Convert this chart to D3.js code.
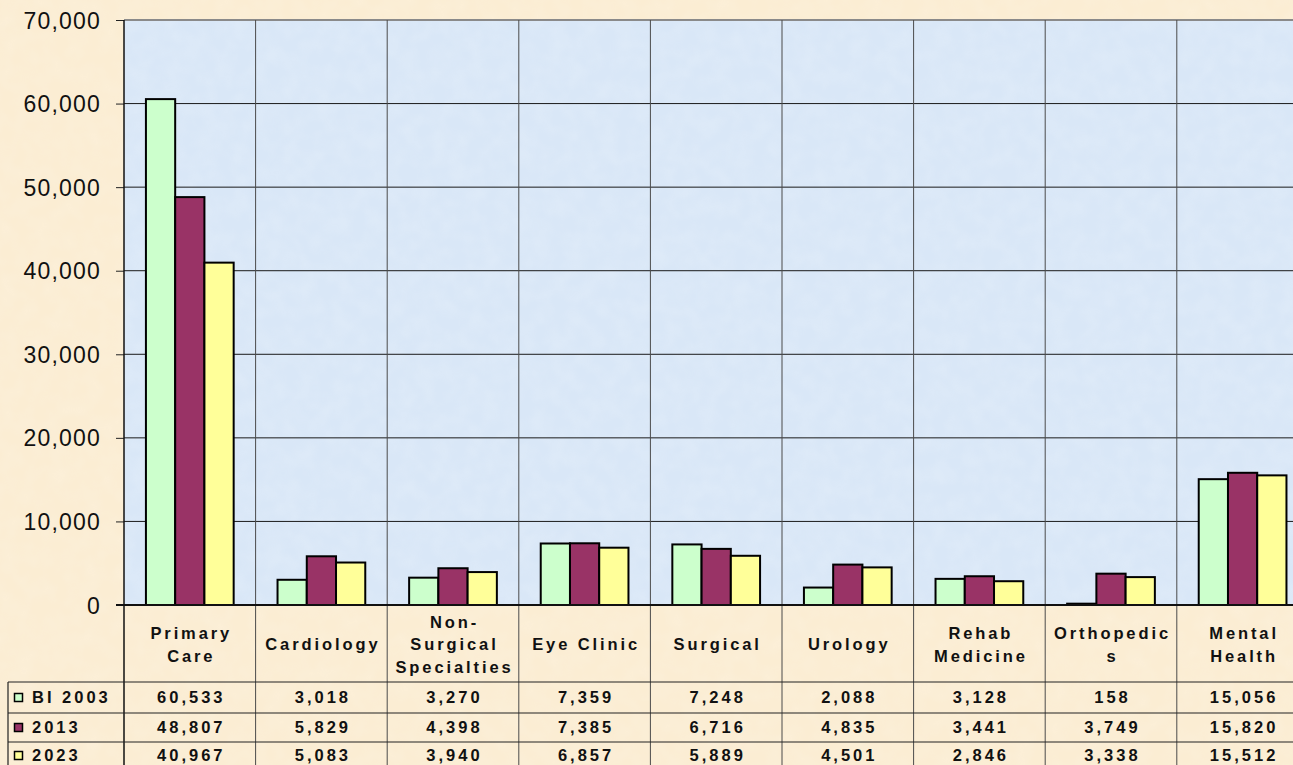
<!DOCTYPE html>
<html>
<head>
<meta charset="utf-8">
<script src="https://cdn.jsdelivr.net/npm/d3@7"></script>
<style>
  html, body { margin: 0; padding: 0; background: #fcefd7; }
  svg { display: block; }
  text { font-family: "Liberation Sans", Arial, sans-serif; }
</style>
</head>
<body>
<svg id="chart" width="1293" height="765"></svg>
<script>
// ---- data ----
const categories = ["Primary Care", "Cardiology", "Non-Surgical Specialties", "Eye Clinic", "Surgical", "Urology", "Rehab Medicine", "Orthopedics", "Mental Health"];
const categoryLabels = [["Primary", "Care"], ["Cardiology"], ["Non-", "Surgical", "Specialties"], ["Eye Clinic"], ["Surgical"], ["Urology"], ["Rehab", "Medicine"], ["Orthopedic", "s"], ["Mental", "Health"]];
const seriesNames = ["BI 2003", "2013", "2023"];
const bi2003 = [60533, 3018, 3270, 7359, 7248, 2088, 3128, 158, 15056];
const y2013 = [48807, 5829, 4398, 7385, 6716, 4835, 3441, 3749, 15820];
const y2023 = [40967, 5083, 3940, 6857, 5889, 4501, 2846, 3338, 15512];
const yTicks = [0, 10000, 20000, 30000, 40000, 50000, 60000, 70000];
const seriesColors = ["#ccffcc", "#993366", "#ffff99"];

const seriesValues = [bi2003, y2013, y2023];
const fmt = d3.format(",");

// ---- layout ----
const svg = d3.select("#chart");
const W = 1293, H = 765;
const plotLeft = 124, plotTop = 20, plotBottom = 605;
const plotRight = plotLeft + 9 * 131.6;
const tableLeft = 8;
const rowLines = [682, 713, 742];
const rowCenters = [697.5, 727.5, 755.5];

// subtle paper texture
const defs = svg.append("defs");
const flt = defs.append("filter").attr("id", "tex").attr("x", 0).attr("y", 0).attr("width", "100%").attr("height", "100%");
flt.append("feTurbulence").attr("type", "fractalNoise").attr("baseFrequency", 0.06).attr("numOctaves", 2).attr("seed", 3).attr("result", "n");
flt.append("feColorMatrix").attr("in", "n").attr("type", "matrix")
  .attr("values", "0 0 0 0 1  0 0 0 0 1  0 0 0 0 1  0 0 0 0.35 -0.1");

// background
svg.append("rect").attr("width", W).attr("height", H).attr("fill", "#fbedd3");
svg.append("rect").attr("width", W).attr("height", H).attr("filter", "url(#tex)").attr("opacity", 0.5);

const x0 = d3.scaleBand().domain(categories).range([plotLeft, plotRight]).padding(0);
const step = x0.bandwidth();
const barW = step / 4.5;
const x1 = d3.scaleBand().domain(seriesNames).range([0, 3 * barW]).padding(0);
const groupOffset = (step - 3 * barW) / 2;
const y = d3.scaleLinear().domain([0, 70000]).range([plotBottom, plotTop]);

// plot area
svg.append("rect")
  .attr("x", plotLeft).attr("y", plotTop)
  .attr("width", plotRight - plotLeft).attr("height", plotBottom - plotTop)
  .attr("fill", "#d9e7f7");
svg.append("rect")
  .attr("x", plotLeft).attr("y", plotTop)
  .attr("width", plotRight - plotLeft).attr("height", plotBottom - plotTop)
  .attr("filter", "url(#tex)").attr("opacity", 0.6);

// horizontal gridlines
svg.append("g").selectAll("line").data(yTicks.filter(d => d > 0 && d < 70000)).join("line")
  .attr("x1", plotLeft).attr("x2", plotRight)
  .attr("y1", d => y(d)).attr("y2", d => y(d))
  .attr("stroke", "#1a1a1a").attr("stroke-width", 1);

// top border
svg.append("line").attr("x1", plotLeft).attr("x2", plotRight)
  .attr("y1", y(70000)).attr("y2", y(70000))
  .attr("stroke", "#8a8a8a").attr("stroke-width", 2);

// vertical lines at category boundaries (plot + table)
const bounds = categories.map(c => x0(c)).concat([plotRight]);
svg.append("g").selectAll("line").data(bounds.slice(1)).join("line")
  .attr("x1", d => d).attr("x2", d => d)
  .attr("y1", plotTop).attr("y2", H)
  .attr("stroke", "#4a4a4a").attr("stroke-width", 1);

// bars
const groups = svg.append("g").selectAll("g").data(categories).join("g")
  .attr("transform", c => `translate(${x0(c) + groupOffset},0)`);
groups.selectAll("rect").data((c, i) => seriesNames.map((s, j) => ({s, v: seriesValues[j][i], j}))).join("rect")
  .attr("x", d => x1(d.s))
  .attr("y", d => y(d.v))
  .attr("width", x1.bandwidth())
  .attr("height", d => y(0) - y(d.v))
  .attr("fill", d => seriesColors[d.j])
  .attr("stroke", "#000").attr("stroke-width", 2);

// y axis
const yAxis = d3.axisLeft(y).tickValues(yTicks).tickFormat(fmt).tickSize(8).tickPadding(0);
const ya = svg.append("g").attr("transform", `translate(${plotLeft},0)`).call(yAxis);
ya.select(".domain").remove();
ya.selectAll(".tick line").attr("stroke", "#222").attr("stroke-width", 1);
ya.selectAll(".tick text")
  .attr("x", -23).attr("dy", "0.35em")
  .attr("font-size", 23).attr("letter-spacing", "1.2px")
  .attr("fill", "#111")
  .style("font-family", "'Liberation Sans', Arial, sans-serif");
// left axis line through table
svg.append("line").attr("x1", plotLeft).attr("x2", plotLeft)
  .attr("y1", plotTop).attr("y2", H)
  .attr("stroke", "#111").attr("stroke-width", 1.5);
// zero line
svg.append("line").attr("x1", plotLeft - 8).attr("x2", plotRight)
  .attr("y1", y(0)).attr("y2", y(0))
  .attr("stroke", "#111").attr("stroke-width", 2);

// ---- data table ----
svg.append("g").selectAll("line").data(rowLines).join("line")
  .attr("x1", tableLeft).attr("x2", plotRight)
  .attr("y1", d => d).attr("y2", d => d)
  .attr("stroke", "#222").attr("stroke-width", 1.2);
svg.append("line").attr("x1", tableLeft).attr("x2", tableLeft)
  .attr("y1", rowLines[0]).attr("y2", H)
  .attr("stroke", "#222").attr("stroke-width", 1.2);

const fs = 16.5;
// header labels
const headerMid = (plotBottom + rowLines[0]) / 2 + 1;
const lineH = 22.5;
svg.append("g").selectAll("text").data(categories).join("text")
  .attr("x", c => x0(c) + step / 2 + 1.5)
  .attr("text-anchor", "middle")
  .attr("font-size", fs).attr("font-weight", "bold").attr("letter-spacing", "2.9px")
  .attr("fill", "#111")
  .each(function(c, i) {
    const lines = categoryLabels[i];
    const start = headerMid - (lines.length - 1) * lineH / 2;
    d3.select(this).selectAll("tspan").data(lines).join("tspan")
      .attr("x", x0(c) + step / 2 + 1.5)
      .attr("y", (d, k) => start + k * lineH)
      .attr("dy", "0.36em")
      .text(d => d);
  });

// values
seriesNames.forEach((s, j) => {
  svg.append("g").selectAll("text").data(categories).join("text")
    .attr("x", c => x0(c) + step / 2 + 1.5)
    .attr("y", rowCenters[j]).attr("dy", "0.36em")
    .attr("text-anchor", "middle")
    .attr("font-size", fs).attr("font-weight", "bold").attr("letter-spacing", "3px")
    .attr("fill", "#111")
    .text((c, i) => fmt(seriesValues[j][i]));
});

// legend keys
seriesNames.forEach((s, j) => {
  svg.append("rect")
    .attr("x", 14.5).attr("y", rowCenters[j] - 4)
    .attr("width", 8).attr("height", 8)
    .attr("fill", seriesColors[j]).attr("stroke", "#000").attr("stroke-width", 1.5);
  svg.append("text")
    .attr("x", 32).attr("y", rowCenters[j]).attr("dy", "0.36em")
    .attr("font-size", fs).attr("font-weight", "bold").attr("letter-spacing", "3px")
    .attr("fill", "#111")
    .text(s);
});
</script>
</body>
</html>
